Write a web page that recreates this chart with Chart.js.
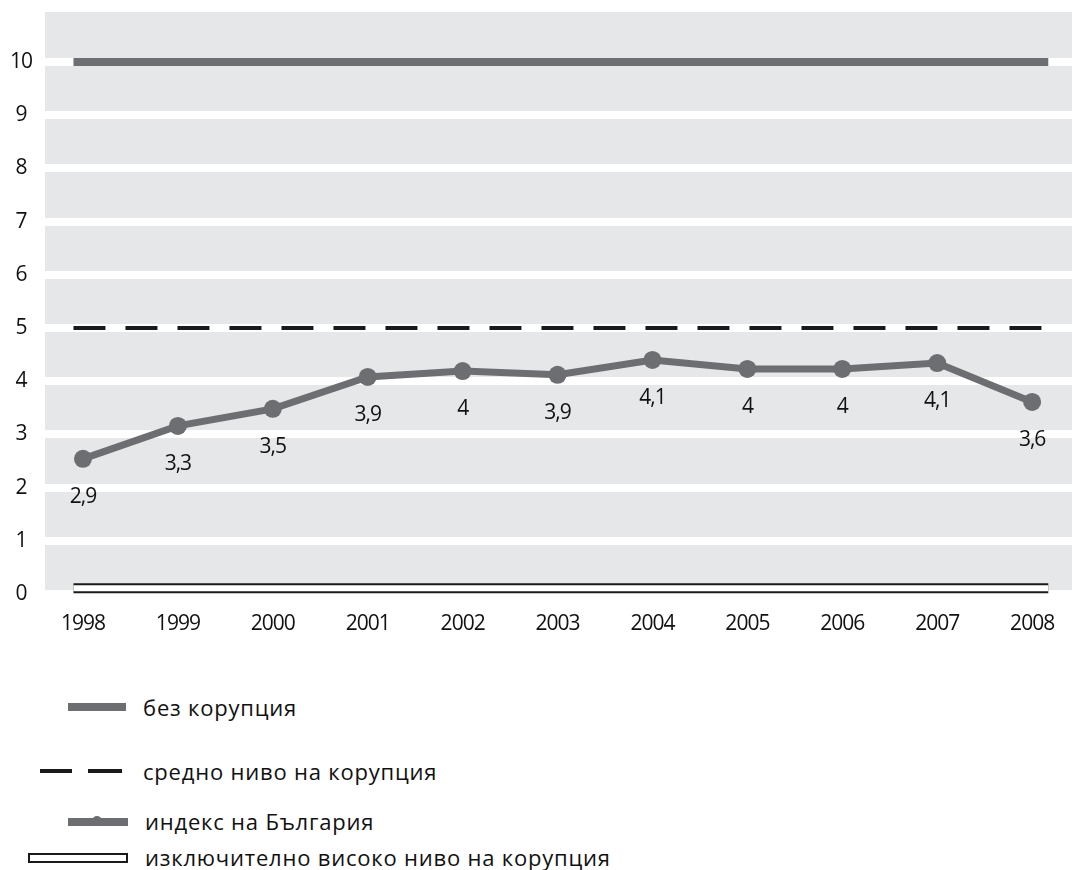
<!DOCTYPE html>
<html lang="bg">
<head>
  <meta charset="UTF-8">
  <title>Индекс за възприятие на корупцията - България</title>
  <script src="https://cdn.jsdelivr.net/npm/chart.js"></script>
  <style>
    * { box-sizing: border-box; }
    body {
      margin: 0; padding: 0;
      background: #fff;
      font-family: 'Open Sans', 'Noto Sans', sans-serif;
      color: #111;
    }
    #wrap { position: relative; width: 1072px; height: 870px; }
    #chartBox { position: absolute; left: 0; top: 0; width: 1072px; height: 650px; }
    .lg { position: absolute; height: 30px; }
    .lg span { position: absolute; }
    .lg .txt {
      font-size: 22px; line-height: 30px; top: 0; white-space: nowrap;
      letter-spacing: 0.8px;
    }
  </style>
</head>
<body>
  <div id="wrap">
    <div id="chartBox"><canvas id="chart"></canvas></div>
    <div id="legend"></div>
  </div>

  <script>
    // years on the x axis
    const years = [1998, 1999, 2000, 2001, 2002, 2003, 2004, 2005, 2006, 2007, 2008];
    // where the points sit in the picture
    const indexValues = [2.54, 3.16, 3.48, 4.08, 4.19, 4.12, 4.40, 4.23, 4.23, 4.34, 3.61];
    // the numbers printed under them
    const indexLabels = ['2,9', '3,3', '3,5', '3,9', '4', '3,9', '4,1', '4', '4', '4,1', '3,6'];
    const yTicks = [0, 1, 2, 3, 4, 5, 6, 7, 8, 9, 10];

    // reference levels
    const noCorruption = 10;
    const midCorruption = 5;
    const highCorruption = 0.11;
    const refStart = 1997.9;
    const refEnd = 2008.17;

    const seriesNames = [
      'без корупция',
      'средно ниво на корупция',
      'индекс на България',
      'изключително високо ниво на корупция'
    ];

    const GRAY = '#6d6e71';
    const FONT = "'Open Sans', 'Noto Sans', sans-serif";

    const bgPlugin = {
      id: 'bg',
      beforeDraw(chart) {
        const a = chart.chartArea, ctx = chart.ctx;
        ctx.letterSpacing = '-1px';
        ctx.save();
        ctx.fillStyle = '#e6e7e8';
        ctx.fillRect(a.left, a.top, a.right - a.left, a.bottom - a.top - 4);
        ctx.restore();
      }
    };

    const labelPlugin = {
      id: 'pointLabels',
      afterDatasetsDraw(chart) {
        const meta = chart.getDatasetMeta(2);
        const ctx = chart.ctx;
        ctx.save();
        ctx.font = '21px ' + FONT;
        ctx.fillStyle = '#111';
        ctx.textAlign = 'center';
        ctx.textBaseline = 'middle';
        meta.data.forEach((pt, i) => {
          ctx.fillText(indexLabels[i], pt.x, pt.y + 38);
        });
        ctx.restore();
      }
    };

    const line = (y) => [{ x: refStart, y }, { x: refEnd, y }];

    new Chart(document.getElementById('chart'), {
      type: 'line',
      data: {
        datasets: [
          {
            label: seriesNames[0],
            data: line(noCorruption),
            borderColor: GRAY, borderWidth: 8, pointRadius: 0
          },
          {
            label: seriesNames[1],
            data: line(midCorruption),
            borderColor: '#1a1a1a', borderWidth: 4, borderDash: [32, 20], pointRadius: 0
          },
          {
            label: seriesNames[2],
            data: years.map((y, i) => ({ x: y, y: indexValues[i] })),
            borderColor: GRAY, borderWidth: 7,
            pointRadius: 9, pointBackgroundColor: GRAY, pointBorderWidth: 0
          },
          {
            // white fill of the bar (drawn over the black outline)
            label: '',
            data: line(highCorruption),
            borderColor: '#ffffff', borderWidth: 6, pointRadius: 0
          },
          {
            label: seriesNames[3],
            data: line(highCorruption),
            borderColor: '#1a1a1a', borderWidth: 10, pointRadius: 0
          }
        ]
      },
      options: {
        responsive: true,
        maintainAspectRatio: false,
        animation: false,
        layout: { autoPadding: false, padding: { top: 12, right: 0, left: 0, bottom: 0 } },
        plugins: { legend: { display: false }, tooltip: { enabled: false } },
        scales: {
          x: {
            type: 'linear',
            min: 1997.6, max: 2008.42,
            afterBuildTicks: (s) => { s.ticks = years.map(v => ({ value: v })); },
            afterFit: (s) => { s.height = 56; s.paddingLeft = 0; s.paddingRight = 0; },
            grid: { display: false, drawTicks: false },
            border: { display: false },
            ticks: {
              padding: 17,
              color: '#111',
              font: { family: FONT, size: 21 },
              callback: (v) => String(v)
            }
          },
          y: {
            min: 0, max: 10.94,
            afterBuildTicks: (s) => { s.ticks = yTicks.map(v => ({ value: v })); },
            afterFit: (s) => { s.width = 45; s.paddingTop = 0; s.paddingBottom = 0; },
            grid: { color: '#ffffff', lineWidth: 8, drawTicks: false },
            border: { display: false },
            ticks: {
              padding: 12,
              crossAlign: 'center',
              color: '#111',
              font: { family: FONT, size: 21 },
              callback: (v) => String(v)
            }
          }
        }
      },
      plugins: [bgPlugin, labelPlugin]
    });

    // legend under the chart
    const legendItems = [
      { top: 692, textLeft: 143, swatch: '<span style="left:68px;top:11px;width:58px;height:8px;background:' + GRAY + '"></span>' },
      { top: 756, textLeft: 143, swatch:
        '<span style="left:40px;top:13px;width:32px;height:4px;background:#1a1a1a"></span>' +
        '<span style="left:88px;top:13px;width:34px;height:4px;background:#1a1a1a"></span>' },
      { top: 806, textLeft: 145, swatch:
        '<span style="left:68px;top:12px;width:60px;height:8px;background:' + GRAY + '"></span>' +
        '<span style="left:92px;top:10px;width:10px;height:10px;border-radius:5px;background:' + GRAY + '"></span>' },
      { top: 842, textLeft: 145, swatch: '<span style="left:28px;top:11px;width:100px;height:10px;background:#fff;border:2px solid #1a1a1a"></span>' }
    ];
    const lgBox = document.getElementById('legend');
    legendItems.forEach((it, i) => {
      const d = document.createElement('div');
      d.className = 'lg';
      d.style.left = '0px';
      d.style.top = it.top + 'px';
      d.style.width = '700px';
      d.innerHTML = it.swatch + '<span class="txt" style="left:' + it.textLeft + 'px">' + seriesNames[i] + '</span>';
      lgBox.appendChild(d);
    });
  </script>
</body>
</html>
